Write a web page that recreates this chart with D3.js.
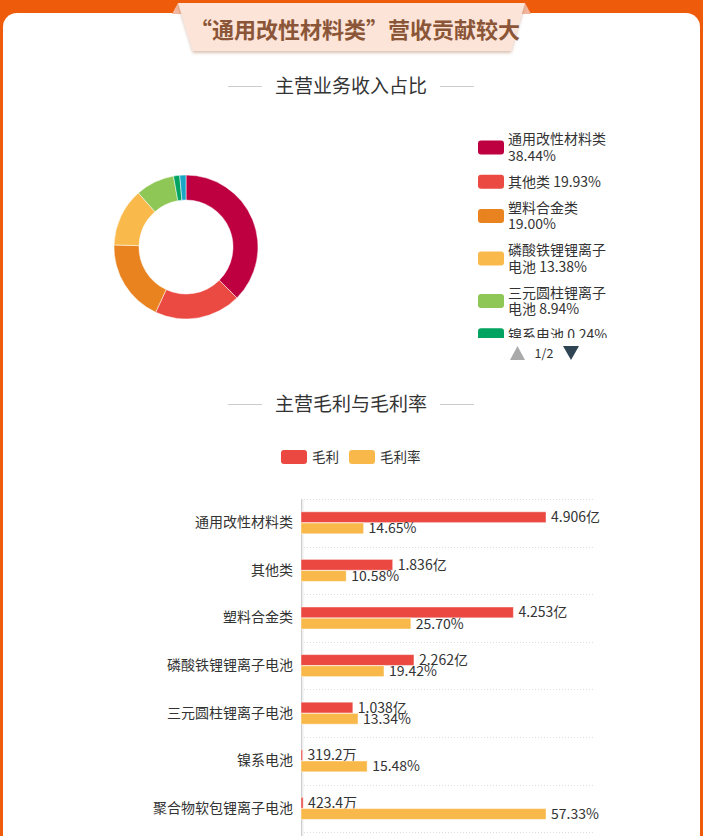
<!DOCTYPE html>
<html>
<head>
<meta charset="utf-8">
<script src="https://cdn.jsdelivr.net/npm/d3@7/dist/d3.min.js"></script>
<style>
  html, body { margin: 0; padding: 0; background: #ED5B0B; }
  svg { display: block; font-family: "Noto Sans CJK SC", "Noto Sans", sans-serif; }
</style>
</head>
<body>
<div id="chart"></div>
<script>
// ── Data ──
const pieNames   = ['通用改性材料类', '其他类', '塑料合金类', '磷酸铁锂锂离子电池', '三元圆柱锂离子电池', '镍系电池', '聚合物软包锂离子电池'];
const pieShares  = [38.44, 19.93, 19.00, 13.38, 8.94, 0.24, 0.08];
const pieColors  = ['#BE0040', '#EA4A41', '#E8831F', '#F9B94B', '#8FC757', '#00A460', '#1AA7C6'];

const barCategories = ['通用改性材料类', '其他类', '塑料合金类', '磷酸铁锂锂离子电池', '三元圆柱锂离子电池', '镍系电池', '聚合物软包锂离子电池'];
const grossProfit   = [4.906e8, 1.836e8, 4.253e8, 2.262e8, 1.038e8, 3.192e6, 4.234e6];   // 元
const grossMargin   = [14.65, 10.58, 25.70, 19.42, 13.34, 15.48, 57.33];                   // %
const barSeries     = ['毛利', '毛利率'];
const barColors     = ['#EA4841', '#F9B94A'];

const W = 703, H = 836;
const svg = d3.select('#chart').append('svg').attr('width', W).attr('height', H);
const defs = svg.append('defs');

// ── Frame ──
svg.append('rect').attr('width', W).attr('height', H).attr('fill', '#ED5B0B');
svg.append('rect').attr('x', 3).attr('y', 13).attr('width', 697).attr('height', H + 40)
  .attr('rx', 14).attr('fill', '#fff');

// ── Title ribbon ──
const rshadow = defs.append('filter').attr('id', 'rshadow')
  .attr('x', '-10%').attr('y', '-20%').attr('width', '120%').attr('height', '150%');
rshadow.append('feDropShadow').attr('dx', 0).attr('dy', 2).attr('stdDeviation', 1.5)
  .attr('flood-color', 'rgba(150,80,40,0.35)');
svg.append('path').attr('d', 'M172,14 L178,3 L183,14 Z').attr('fill', '#F2B79E');
svg.append('path').attr('d', 'M531,14 L525,3 L520,14 Z').attr('fill', '#F2B79E');
svg.append('path').attr('d', 'M178,3 L525,3 L511,51 L193,51 Z')
  .attr('fill', '#FDE4D8').attr('filter', 'url(#rshadow)');
svg.append('text').attr('x', 355).attr('y', 37.5).attr('text-anchor', 'middle')
  .attr('font-size', '22px').attr('font-weight', 700).attr('fill', '#8A5637')
  .text('“通用改性材料类”营收贡献较大');

// ── Section titles ──
function sectionTitle(yc, label) {
  const t = svg.append('text').attr('x', 351).attr('y', yc + 6.5).attr('text-anchor', 'middle')
    .attr('font-size', '19px').attr('fill', '#333').text(label);
  const w = t.node().getComputedTextLength();
  svg.append('line').attr('x1', 351 - w / 2 - 47).attr('x2', 351 - w / 2 - 13)
    .attr('y1', yc + 0.5).attr('y2', yc + 0.5).attr('stroke', '#ccc');
  svg.append('line').attr('x1', 351 + w / 2 + 13).attr('x2', 351 + w / 2 + 47)
    .attr('y1', yc + 0.5).attr('y2', yc + 0.5).attr('stroke', '#ccc');
}
sectionTitle(86, '主营业务收入占比');
sectionTitle(404, '主营毛利与毛利率');

// ── Donut (ECharts-like minAngle) ──
const minAngle = 5 * Math.PI / 180;
const total = d3.sum(pieShares);
const isSmall = v => v / total * 2 * Math.PI < minAngle;
const bigSum = d3.sum(pieShares.filter(v => !isSmall(v)));
const restAngle = 2 * Math.PI - pieShares.filter(isSmall).length * minAngle;
let acc = 0;
const arcsData = pieShares.map((v, i) => {
  const a = isSmall(v) ? minAngle : restAngle * v / bigSum;
  const d = { startAngle: acc, endAngle: acc + a, color: pieColors[i] };
  acc += a;
  return d;
});
const arc = d3.arc().innerRadius(47).outerRadius(72);
svg.append('g').attr('transform', 'translate(186,247)')
  .selectAll('path').data(arcsData).join('path')
  .attr('d', arc).attr('fill', d => d.color)
  .attr('stroke', '#fff').attr('stroke-width', 0.5);

// ── Donut legend (scrollable, page 1 of 2) ──
const clipTop = 126, clipBottom = 338;
defs.append('clipPath').attr('id', 'legClip')
  .append('rect').attr('x', 470).attr('y', clipTop).attr('width', 200).attr('height', clipBottom - clipTop);
const leg = svg.append('g').attr('clip-path', 'url(#legClip)');
const lineH = 16.5, itemGap = 9.5, textX = 508, maxW = 103;
let ly = 131;
const measure = svg.append('text').attr('font-size', '14px').attr('visibility', 'hidden');
function textW(s) { measure.text(s); return measure.node().getComputedTextLength(); }
function wrap(str) {
  const tokens = str.match(/[\u4e00-\u9fff]|[^\u4e00-\u9fff\s]+|\s+/g);
  const lines = [];
  let cur = '';
  tokens.forEach(tk => {
    const trial = cur + tk;
    if (cur.trim() && textW(trial.trimEnd()) > maxW) {
      lines.push(cur.trimEnd());
      cur = tk.trim() ? tk : '';
    } else cur = trial;
  });
  if (cur.trim()) lines.push(cur.trimEnd());
  return lines;
}
pieNames.forEach((name, i) => {
  const lines = wrap(name + ' ' + pieShares[i].toFixed(2) + '%');
  const h = lines.length * lineH;
  if (ly < clipBottom) {   // items past the clip sit on page 2
    leg.append('rect').attr('x', 478).attr('y', ly + h / 2 - 7).attr('width', 26).attr('height', 14)
      .attr('rx', 3).attr('fill', pieColors[i]);
    lines.forEach((ln, j) => {
      leg.append('text').attr('x', textX).attr('y', ly + j * lineH + lineH / 2)
        .attr('dy', '0.36em').attr('font-size', '14px').attr('fill', '#333').text(ln);
    });
  }
  ly += h + itemGap;
});
measure.remove();
// pager
svg.append('path').attr('d', 'M510,360 L517.5,346 L525,360 Z').attr('fill', '#aaa');
svg.append('text').attr('x', 544).attr('y', 353).attr('dy', '0.36em').attr('text-anchor', 'middle')
  .attr('font-size', '12.5px').attr('fill', '#333').text('1/2');
svg.append('path').attr('d', 'M563,346 L571,360 L579,346 Z').attr('fill', '#2F4554');

// ── Bar legend ──
const bl = svg.append('g');
[[281, 312], [349, 380]].forEach(([sx, tx], i) => {
  bl.append('rect').attr('x', sx).attr('y', 450).attr('width', 26).attr('height', 14).attr('rx', 3)
    .attr('fill', barColors[i]);
  bl.append('text').attr('x', tx).attr('y', 457).attr('dy', '0.36em')
    .attr('font-size', '13.5px').attr('fill', '#333').text(barSeries[i]);
});

// ── Bar chart ──
const gx0 = 301, gx1 = 595, gTop = 499, band = 47.6;
const y = d3.scaleBand().domain(barCategories).range([gTop, gTop + band * barCategories.length]);
const xGP = d3.scaleLinear().domain([0, d3.max(grossProfit) * 1.2]).range([gx0, gx1]);
const xGM = d3.scaleLinear().domain([0, d3.max(grossMargin) * 1.2]).range([gx0, gx1]);
const inner = d3.scaleBand().domain(barSeries).range([-11, 11]).paddingInner(0.03);

// grid (category split lines)
const grid = svg.append('g');
d3.range(barCategories.length + 1).forEach(k => {
  const gy = Math.round(gTop + k * band) + 0.5;
  grid.append('line').attr('x1', gx0).attr('x2', gx1).attr('y1', gy).attr('y2', gy)
    .attr('stroke', '#ddd').attr('stroke-dasharray', '1,2');
});

// y axis
const yAxis = d3.axisLeft(y).tickSize(0).tickPadding(8);
const ya = svg.append('g').attr('transform', `translate(${gx0},0)`).call(yAxis);
ya.select('.domain').remove();
ya.selectAll('text').attr('font-size', '14px').attr('fill', '#333')
  .attr('font-family', '"Noto Sans CJK SC", sans-serif');
svg.append('line').attr('x1', gx0 + 1.5).attr('x2', gx0 + 1.5).attr('y1', gTop).attr('y2', H)
  .attr('stroke', '#eee').attr('stroke-width', 2);
svg.append('line').attr('x1', gx0 + 0.5).attr('x2', gx0 + 0.5).attr('y1', gTop).attr('y2', H)
  .attr('stroke', '#ccc');

function fmtGP(v) {
  return v >= 1e8 ? (v / 1e8).toFixed(3) + '亿' : (v / 1e4).toFixed(1) + '万';
}
const rows = barCategories.map((c, i) => ({ c, gp: grossProfit[i], gm: grossMargin[i] }));
const bars = svg.append('g');
rows.forEach(r => {
  const cy = y(r.c) + y.bandwidth() / 2;
  const specs = [
    { key: '毛利', end: xGP(r.gp), color: barColors[0], label: fmtGP(r.gp) },
    { key: '毛利率', end: xGM(r.gm), color: barColors[1], label: r.gm.toFixed(2) + '%' }
  ];
  specs.forEach(s => {
    const by = cy + inner(s.key);
    bars.append('rect').attr('x', gx0).attr('y', by)
      .attr('width', Math.max(1, s.end - gx0)).attr('height', inner.bandwidth())
      .attr('fill', s.color).attr('stroke', 'rgba(255,255,255,0.45)').attr('stroke-width', 1);
    bars.append('text').attr('x', s.end + 5).attr('y', by + inner.bandwidth() / 2)
      .attr('dy', '0.36em').attr('font-size', '14px').attr('fill', '#333').text(s.label);
  });
});
</script>
</body>
</html>
